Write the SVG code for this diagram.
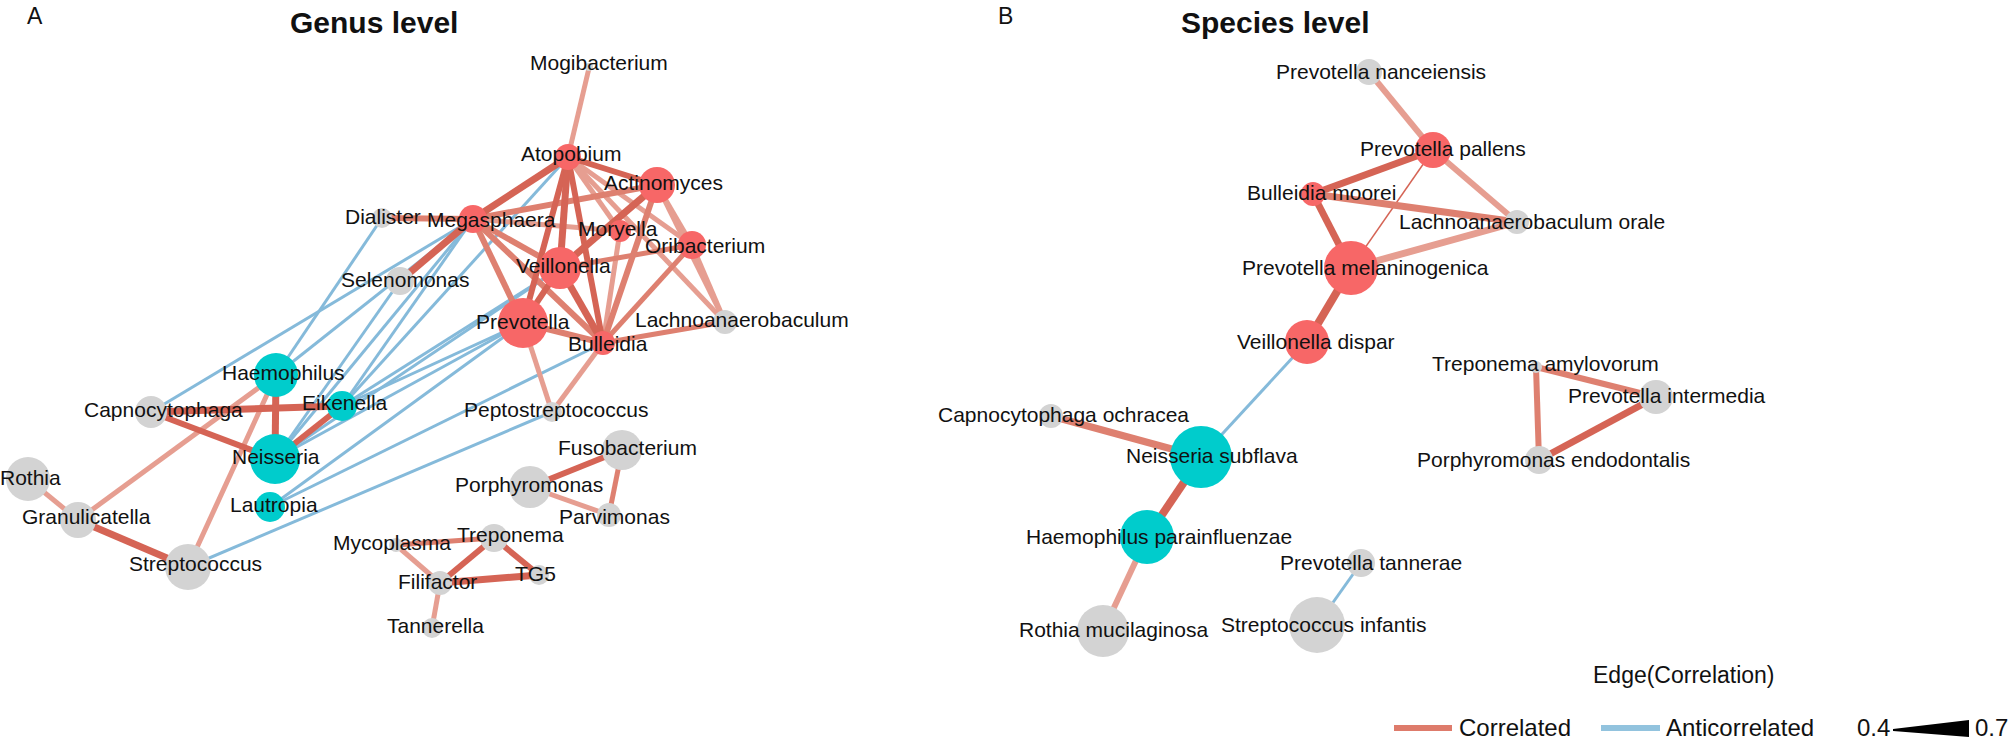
<svg xmlns="http://www.w3.org/2000/svg" width="2008" height="738" viewBox="0 0 2008 738">
<style>
text{font-family:"Liberation Sans",Arial,sans-serif;fill:#111}
.lb{font-size:21px}
.tt{font-size:30px;font-weight:bold}
.pl{font-size:23px}
.lg{font-size:24px}
line{stroke-linecap:butt}
.s{stroke:#D56455}
.m{stroke:#DE8070}
.w{stroke:#E69E91}
.b{stroke:#85BADA;stroke-width:3}
.rn{fill:#F76767}
.tn{fill:#00CCCC}
.gn{fill:#D3D3D3}
</style>
<rect width="2008" height="738" fill="#fff"/>
<text class="pl" x="27" y="24">A</text>
<text class="tt" x="290" y="33">Genus level</text>
<text class="pl" x="998" y="24">B</text>
<text class="tt" x="1181" y="33">Species level</text>
<g id="connectors">
<!-- panel A anticorrelated -->
<line class="b" x1="382" y1="218" x2="276" y2="375"/>
<line class="b" x1="473" y1="219" x2="151" y2="412"/>
<line class="b" x1="473" y1="219" x2="276" y2="375"/>
<line class="b" x1="473" y1="219" x2="342" y2="406"/>
<line class="b" x1="473" y1="219" x2="275" y2="459"/>
<line class="b" x1="568" y1="157" x2="342" y2="406"/>
<line class="b" x1="400" y1="281" x2="275" y2="459"/>
<line class="b" x1="560" y1="268" x2="342" y2="406"/>
<line class="b" x1="560" y1="268" x2="275" y2="459"/>
<line class="b" x1="523" y1="323" x2="342" y2="406"/>
<line class="b" x1="523" y1="323" x2="275" y2="459"/>
<line class="b" x1="523" y1="323" x2="270" y2="507"/>
<line class="b" x1="603" y1="343" x2="270" y2="507"/>
<line class="b" x1="188" y1="567" x2="552" y2="412"/>
<!-- panel A correlated -->
<line class="w" stroke-width="5" x1="589" y1="68" x2="568" y2="157"/>
<line class="w" stroke-width="5" x1="568" y1="157" x2="620" y2="231"/>
<line class="w" stroke-width="5" x1="568" y1="157" x2="692" y2="245"/>
<line class="w" stroke-width="5" x1="568" y1="157" x2="725" y2="322"/>
<line class="w" stroke-width="5" x1="473" y1="219" x2="620" y2="231"/>
<line class="w" stroke-width="5" x1="657" y1="185" x2="692" y2="245"/>
<line class="w" stroke-width="5" x1="657" y1="185" x2="725" y2="322"/>
<line class="w" stroke-width="5" x1="620" y1="231" x2="603" y2="343"/>
<line class="w" stroke-width="5" x1="692" y1="245" x2="725" y2="322"/>
<line class="w" stroke-width="5" x1="523" y1="323" x2="552" y2="412"/>
<line class="w" stroke-width="5" x1="603" y1="343" x2="552" y2="412"/>
<line class="m" stroke-width="5" x1="692" y1="245" x2="560" y2="268"/>
<line class="m" stroke-width="5" x1="692" y1="245" x2="603" y2="343"/>
<line class="m" stroke-width="5" x1="603" y1="343" x2="725" y2="322"/>
<line class="m" stroke-width="6" x1="473" y1="219" x2="382" y2="218"/>
<line class="m" stroke-width="6" x1="473" y1="219" x2="657" y2="185"/>
<line class="m" stroke-width="6" x1="473" y1="219" x2="560" y2="268"/>
<line class="m" stroke-width="6" x1="473" y1="219" x2="603" y2="343"/>
<line class="m" stroke-width="6" x1="473" y1="219" x2="523" y2="323"/>
<line class="m" stroke-width="6" x1="657" y1="185" x2="603" y2="343"/>
<line class="m" stroke-width="6" x1="523" y1="323" x2="603" y2="343"/>
<line class="s" stroke-width="6" x1="568" y1="157" x2="657" y2="185"/>
<line class="s" stroke-width="6" x1="568" y1="157" x2="523" y2="323"/>
<line class="s" stroke-width="7" x1="568" y1="157" x2="473" y2="219"/>
<line class="s" stroke-width="7" x1="568" y1="157" x2="560" y2="268"/>
<line class="s" stroke-width="6" x1="568" y1="157" x2="603" y2="343"/>
<line class="s" stroke-width="7" x1="473" y1="219" x2="400" y2="281"/>
<line class="s" stroke-width="7" x1="657" y1="185" x2="560" y2="268"/>
<line class="s" stroke-width="7" x1="560" y1="268" x2="603" y2="343"/>
<line class="s" stroke-width="6" x1="560" y1="268" x2="523" y2="323"/>
<line class="w" stroke-width="5" x1="276" y1="375" x2="78" y2="520"/>
<line class="w" stroke-width="5" x1="276" y1="375" x2="188" y2="567"/>
<line class="w" stroke-width="5" x1="28" y1="479" x2="78" y2="520"/>
<line class="s" stroke-width="7" x1="151" y1="412" x2="342" y2="406"/>
<line class="s" stroke-width="7" x1="276" y1="375" x2="275" y2="459"/>
<line class="s" stroke-width="6" x1="342" y1="406" x2="275" y2="459"/>
<line class="s" stroke-width="6" x1="151" y1="412" x2="275" y2="459"/>
<line class="s" stroke-width="7" x1="78" y1="520" x2="188" y2="567"/>
<line class="s" stroke-width="6" x1="530" y1="487" x2="622" y2="450"/>
<line class="w" stroke-width="5" x1="530" y1="487" x2="609" y2="515"/>
<line class="m" stroke-width="5" x1="622" y1="450" x2="609" y2="515"/>
<line class="m" stroke-width="5" x1="396" y1="545" x2="494" y2="538"/>
<line class="w" stroke-width="5" x1="396" y1="545" x2="440" y2="583"/>
<line class="s" stroke-width="6" x1="494" y1="538" x2="440" y2="583"/>
<line class="s" stroke-width="6" x1="494" y1="538" x2="539" y2="575"/>
<line class="s" stroke-width="7" x1="440" y1="583" x2="539" y2="575"/>
<line class="w" stroke-width="5" x1="440" y1="583" x2="432" y2="628"/>
<!-- panel B -->
<line class="w" stroke-width="6" x1="1369" y1="72" x2="1433" y2="150"/>
<line class="s" stroke-width="7" x1="1433" y1="150" x2="1313" y2="194"/>
<line class="w" stroke-width="6" x1="1433" y1="150" x2="1517" y2="222"/>
<line class="s" stroke-width="1.5" x1="1433" y1="150" x2="1351" y2="268"/>
<line class="m" stroke-width="7" x1="1313" y1="194" x2="1517" y2="222"/>
<line class="s" stroke-width="7" x1="1313" y1="194" x2="1351" y2="268"/>
<line class="w" stroke-width="7" x1="1351" y1="268" x2="1517" y2="222"/>
<line class="s" stroke-width="8" x1="1351" y1="268" x2="1307" y2="342"/>
<line class="b" stroke-width="4" x1="1307" y1="342" x2="1201" y2="457"/>
<line class="m" stroke-width="7" x1="1051" y1="416" x2="1201" y2="457"/>
<line class="s" stroke-width="8" x1="1201" y1="457" x2="1147" y2="537"/>
<line class="w" stroke-width="6" x1="1147" y1="537" x2="1103" y2="631"/>
<line class="b" x1="1361" y1="563" x2="1317" y2="625"/>
<line class="m" stroke-width="6" x1="1536" y1="367" x2="1656" y2="397"/>
<line class="m" stroke-width="6" x1="1536" y1="367" x2="1539" y2="460"/>
<line class="s" stroke-width="7" x1="1656" y1="397" x2="1539" y2="460"/>
</g>
<g id="n-mogibacterium"><circle class="gn" cx="589" cy="67" r="4"/><text class="lb" x="530" y="70">Mogibacterium</text></g>
<g id="n-atopobium"><circle class="rn" cx="568" cy="157" r="13"/><text class="lb" x="521" y="161">Atopobium</text></g>
<g id="n-actinomyces"><circle class="rn" cx="657" cy="185" r="18"/><text class="lb" x="604" y="190">Actinomyces</text></g>
<g id="n-dialister"><circle class="gn" cx="382" cy="218" r="10"/><text class="lb" x="345" y="224">Dialister</text></g>
<g id="n-megasphaera"><circle class="rn" cx="473" cy="219" r="14"/><text class="lb" x="427" y="227">Megasphaera</text></g>
<g id="n-moryella"><circle class="rn" cx="620" cy="231" r="11"/><text class="lb" x="578" y="236">Moryella</text></g>
<g id="n-oribacterium"><circle class="rn" cx="692" cy="245" r="14"/><text class="lb" x="645" y="253">Oribacterium</text></g>
<g id="n-veillonella"><circle class="rn" cx="560" cy="268" r="21"/><text class="lb" x="516" y="273">Veillonella</text></g>
<g id="n-selenomonas"><circle class="gn" cx="400" cy="281" r="14"/><text class="lb" x="341" y="287">Selenomonas</text></g>
<g id="n-prevotella"><circle class="rn" cx="523" cy="323" r="25"/><text class="lb" x="476" y="329">Prevotella</text></g>
<g id="n-bulleidia"><circle class="rn" cx="603" cy="343" r="12"/><text class="lb" x="568" y="351">Bulleidia</text></g>
<g id="n-lachnoanaerobaculum"><circle class="gn" cx="725" cy="322" r="12"/><text class="lb" x="635" y="327">Lachnoanaerobaculum</text></g>
<g id="n-haemophilus"><circle class="tn" cx="276" cy="375" r="22"/><text class="lb" x="222" y="380">Haemophilus</text></g>
<g id="n-capnocytophaga"><circle class="gn" cx="151" cy="412" r="16"/><text class="lb" x="84" y="417">Capnocytophaga</text></g>
<g id="n-eikenella"><circle class="tn" cx="342" cy="406" r="15"/><text class="lb" x="302" y="410">Eikenella</text></g>
<g id="n-neisseria"><circle class="tn" cx="275" cy="459" r="25"/><text class="lb" x="232" y="464">Neisseria</text></g>
<g id="n-lautropia"><circle class="tn" cx="270" cy="507" r="15"/><text class="lb" x="230" y="512">Lautropia</text></g>
<g id="n-rothia"><circle class="gn" cx="28" cy="479" r="22"/><text class="lb" x="0" y="485">Rothia</text></g>
<g id="n-granulicatella"><circle class="gn" cx="78" cy="520" r="18"/><text class="lb" x="22" y="524">Granulicatella</text></g>
<g id="n-streptococcus"><circle class="gn" cx="188" cy="567" r="23"/><text class="lb" x="129" y="571">Streptococcus</text></g>
<g id="n-peptostreptococcus"><circle class="gn" cx="552" cy="412" r="10"/><text class="lb" x="464" y="417">Peptostreptococcus</text></g>
<g id="n-fusobacterium"><circle class="gn" cx="622" cy="450" r="20"/><text class="lb" x="558" y="455">Fusobacterium</text></g>
<g id="n-porphyromonas"><circle class="gn" cx="530" cy="487" r="21"/><text class="lb" x="455" y="492">Porphyromonas</text></g>
<g id="n-parvimonas"><circle class="gn" cx="609" cy="515" r="12"/><text class="lb" x="559" y="524">Parvimonas</text></g>
<g id="n-treponema"><circle class="gn" cx="494" cy="538" r="14"/><text class="lb" x="457" y="542">Treponema</text></g>
<g id="n-mycoplasma"><circle class="gn" cx="396" cy="545" r="7"/><text class="lb" x="333" y="550">Mycoplasma</text></g>
<g id="n-tg5"><circle class="gn" cx="539" cy="575" r="10"/><text class="lb" x="515" y="581">TG5</text></g>
<g id="n-filifactor"><circle class="gn" cx="440" cy="583" r="12"/><text class="lb" x="398" y="589">Filifactor</text></g>
<g id="n-tannerella"><circle class="gn" cx="432" cy="628" r="10"/><text class="lb" x="387" y="633">Tannerella</text></g>
<g id="s-prevotella-nanceiensis"><circle class="gn" cx="1369" cy="72" r="13"/><text class="lb" x="1276" y="79">Prevotella nanceiensis</text></g>
<g id="s-prevotella-pallens"><circle class="rn" cx="1433" cy="150" r="18"/><text class="lb" x="1360" y="156">Prevotella pallens</text></g>
<g id="s-bulleidia-moorei"><circle class="rn" cx="1313" cy="194" r="12"/><text class="lb" x="1247" y="200">Bulleidia moorei</text></g>
<g id="s-lachnoanaerobaculum-orale"><circle class="gn" cx="1517" cy="222" r="12"/><text class="lb" x="1399" y="229">Lachnoanaerobaculum orale</text></g>
<g id="s-prevotella-melaninogenica"><circle class="rn" cx="1351" cy="268" r="27"/><text class="lb" x="1242" y="275">Prevotella melaninogenica</text></g>
<g id="s-veillonella-dispar"><circle class="rn" cx="1307" cy="342" r="22"/><text class="lb" x="1237" y="349">Veillonella dispar</text></g>
<g id="s-treponema-amylovorum"><circle class="gn" cx="1536" cy="367" r="6"/><text class="lb" x="1432" y="371">Treponema amylovorum</text></g>
<g id="s-prevotella-intermedia"><circle class="gn" cx="1656" cy="397" r="17"/><text class="lb" x="1568" y="403">Prevotella intermedia</text></g>
<g id="s-porphyromonas-endodontalis"><circle class="gn" cx="1539" cy="460" r="14"/><text class="lb" x="1417" y="467">Porphyromonas endodontalis</text></g>
<g id="s-capnocytophaga-ochracea"><circle class="gn" cx="1051" cy="416" r="12"/><text class="lb" x="938" y="422">Capnocytophaga ochracea</text></g>
<g id="s-neisseria-subflava"><circle class="tn" cx="1201" cy="457" r="31"/><text class="lb" x="1126" y="463">Neisseria subflava</text></g>
<g id="s-haemophilus-parainfluenzae"><circle class="tn" cx="1147" cy="537" r="27"/><text class="lb" x="1026" y="544">Haemophilus parainfluenzae</text></g>
<g id="s-prevotella-tannerae"><circle class="gn" cx="1361" cy="563" r="14"/><text class="lb" x="1280" y="570">Prevotella tannerae</text></g>
<g id="s-rothia-mucilaginosa"><circle class="gn" cx="1103" cy="631" r="26"/><text class="lb" x="1019" y="637">Rothia mucilaginosa</text></g>
<g id="s-streptococcus-infantis"><circle class="gn" cx="1317" cy="625" r="28"/><text class="lb" x="1221" y="632">Streptococcus infantis</text></g>
<g id="legend">
<text x="1593" y="683" style="font-size:23px">Edge(Correlation)</text>
<line x1="1394" y1="728" x2="1452" y2="728" stroke="#DE7B6B" stroke-width="6" stroke-linecap="round"/>
<text class="lg" x="1459" y="736">Correlated</text>
<line x1="1601" y1="728" x2="1660" y2="728" stroke="#92C3DE" stroke-width="6" stroke-linecap="round"/>
<text class="lg" x="1666" y="736">Anticorrelated</text>
<text class="lg" x="1857" y="736">0.4</text>
<polygon points="1893,729 1969,720 1969,737 1893,731" fill="#000"/>
<text class="lg" x="1975" y="736">0.7</text>
</g>
</svg>
